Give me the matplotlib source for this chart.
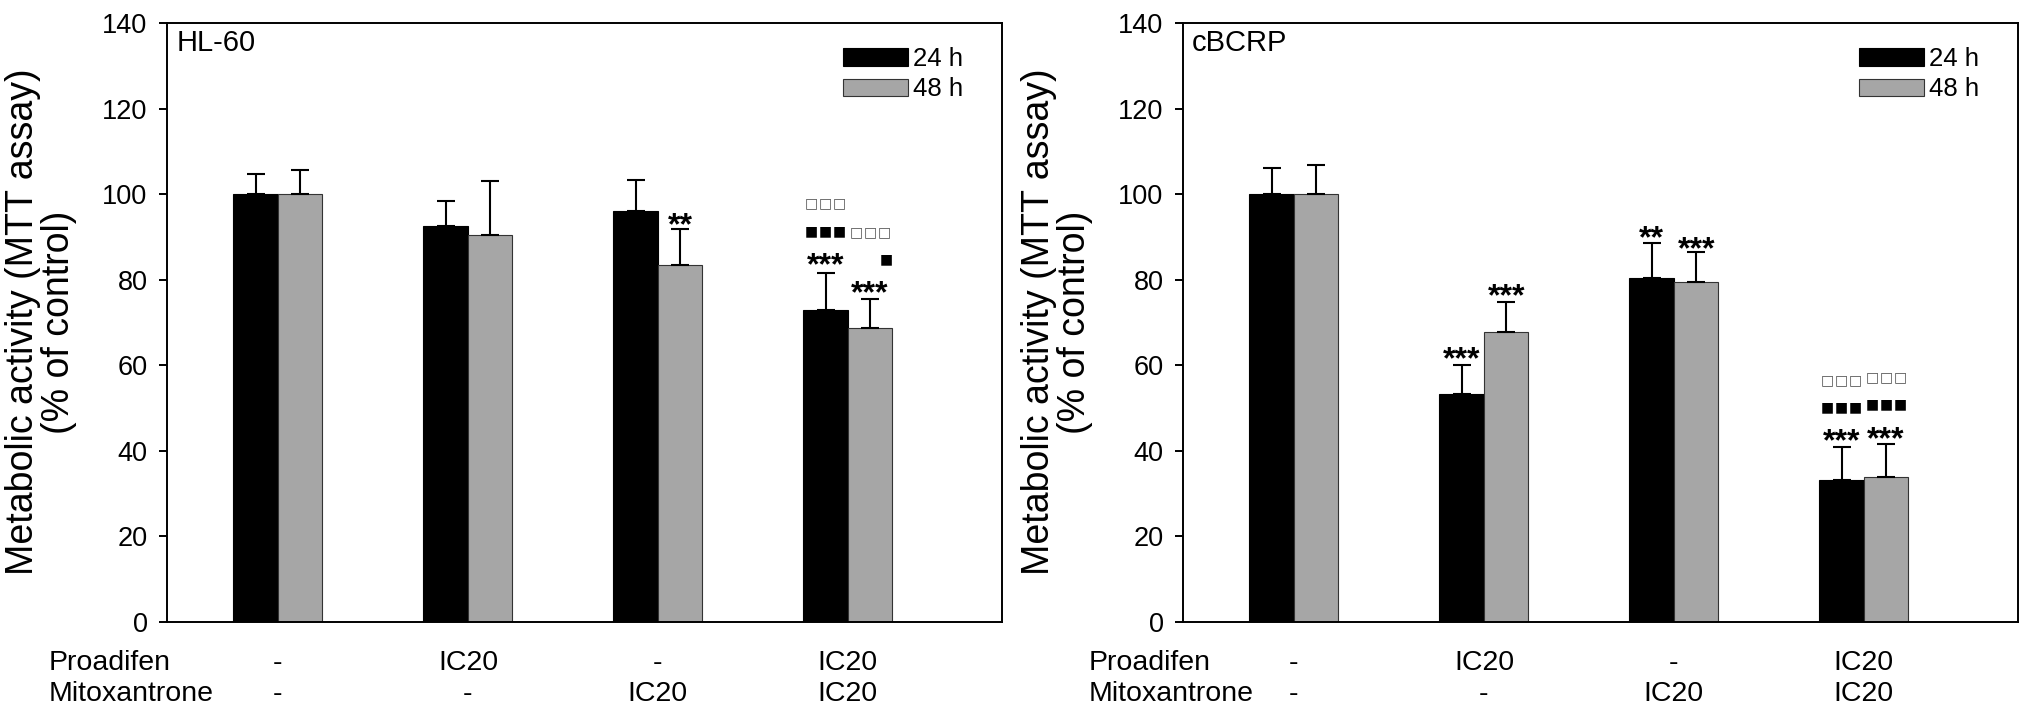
import numpy as np
import matplotlib
matplotlib.use("Agg")
import matplotlib.pyplot as plt
from matplotlib.transforms import ScaledTranslation

plt.rcParams["font.family"] = ["Liberation Sans", "DejaVu Sans"]

# %%
# data
groups = [1, 2, 3, 4]
proadifen = ["-", "IC20", "-", "IC20"]
mitoxantrone = ["-", "-", "IC20", "IC20"]

hl60_24 = [100, 92.5, 96.0, 72.9]
hl60_24_err = [4.8, 5.8, 7.3, 8.7]
hl60_48 = [100, 90.5, 83.4, 68.6]
hl60_48_err = [5.7, 12.5, 8.4, 6.9]

cbcrp_24 = [100, 53.3, 80.3, 33.3]
cbcrp_24_err = [6.0, 6.8, 8.3, 7.5]
cbcrp_48 = [100, 67.8, 79.4, 34.0]
cbcrp_48_err = [6.8, 6.9, 7.0, 7.6]

# significance marks: (group, series 0=24h 1=48h, text, y centre)
hl60_marks = [
    (3, 1, "**", 95.1),
    (4, 0, "***", 85.7),
    (4, 0, "■■■", 91.4),
    (4, 0, "□□□", 98.0),
    (4, 1, "***", 79.0),
    (4, 1, "■", 84.8),
    (4, 1, "□□□", 91.2),
]
cbcrp_marks = [
    (2, 0, "***", 63.6),
    (2, 1, "***", 78.5),
    (3, 0, "**", 91.9),
    (3, 1, "***", 89.5),
    (4, 0, "***", 44.5),
    (4, 0, "■■■", 50.3),
    (4, 0, "□□□", 56.5),
    (4, 1, "***", 44.9),
    (4, 1, "■■■", 50.9),
    (4, 1, "□□□", 57.2),
]

# %%
fig = plt.figure(figsize=(20.31, 7.12), dpi=100)
gray = "#a6a6a6"
w = 0.234


def panel(ax, title, v24, e24, v48, e48, marks):
    x = np.array(groups, dtype=float)
    ax.bar(x - w / 2, v24, w, color="black", edgecolor="black", linewidth=0.8, label="24 h")
    ax.bar(x + w / 2, v48, w, color=gray, edgecolor="#333333", linewidth=0.8, label="48 h")
    ax.errorbar(x - w / 2, v24, yerr=[np.zeros(4), e24], fmt="none", ecolor="black",
                elinewidth=1.5, capsize=6.5, capthick=1.5)
    ax.errorbar(x + w / 2, v48, yerr=[np.zeros(4), e48], fmt="none", ecolor="black",
                elinewidth=1.5, capsize=6.5, capthick=1.5)
    for g, s, txt, y in marks:
        xc = g + (w / 2 if s == 1 else -w / 2)
        if "*" in txt:
            ax.annotate(txt, (xc, y), xytext=(0, -13.5), textcoords="offset points",
                        ha="center", va="baseline", fontsize=23, fontweight="bold")
        else:
            # lone filled square sits right of the bar centre
            shift = 11.5 if txt == "■" else 0
            n = len(txt)
            for i, ch in enumerate(txt):
                dx = shift + (i - (n - 1) / 2) * 10
                ax.annotate(ch, (xc, y), xytext=(dx, 0), textcoords="offset points",
                            ha="center", va="center", fontsize=10, family="DejaVu Sans",
                            color="black" if ch == "■" else "#555555")
    ax.set_xlim(0.416, 4.811)
    ax.set_ylim(0, 140)
    ax.set_yticks(range(0, 141, 20))
    ax.set_xticks([])
    ax.tick_params(axis="y", direction="out", length=6, width=1.4, pad=8, labelsize=19.5)
    for sp in ax.spines.values():
        sp.set_linewidth(1.4)
    ax.text(0.011, 0.99, title, transform=ax.transAxes, ha="left", va="top", fontsize=21)
    ax.legend(loc="upper left", bbox_to_anchor=(0.8096, 0.96), frameon=False,
              fontsize=18.5, handlelength=2.53, handleheight=0.66, handletextpad=0.2,
              labelspacing=0.25, borderpad=0, borderaxespad=0)


ax1 = fig.add_axes([167 / 2031, 90 / 712, 835 / 2031, 599 / 712])
ax2 = fig.add_axes([1183 / 2031, 90 / 712, 835 / 2031, 599 / 712])
panel(ax1, "HL-60", hl60_24, hl60_24_err, hl60_48, hl60_48_err, hl60_marks)
panel(ax2, "cBCRP", cbcrp_24, cbcrp_24_err, cbcrp_48, cbcrp_48_err, cbcrp_marks)

ylab = "Metabolic activity (MTT assay)\n(% of control)"
for ax, lx, rowx in [(ax1, 41, 49), (ax2, 1057, 1089)]:
    fig.text(lx / 2031, 0.5 + (712 / 2 - 322) / 712, ylab, rotation=90, ha="center",
             va="center", multialignment="center", fontsize=27, linespacing=1.0)
    fig.text(rowx / 2031, 1 - 670 / 712, "Proadifen", ha="left", va="baseline", fontsize=20.5)
    fig.text(rowx / 2031, 1 - 701 / 712, "Mitoxantrone", ha="left", va="baseline", fontsize=20.5)
    tr = ax.get_xaxis_transform()
    for g, p, m in zip(groups, proadifen, mitoxantrone):
        ax.text(g, 0, p, transform=tr + ScaledTranslation(0, -48 / 100, fig.dpi_scale_trans),
                ha="center", va="baseline", fontsize=20.5)
        ax.text(g, 0, m, transform=tr + ScaledTranslation(0, -79 / 100, fig.dpi_scale_trans),
                ha="center", va="baseline", fontsize=20.5)

fig.savefig("out.png", dpi=100)
